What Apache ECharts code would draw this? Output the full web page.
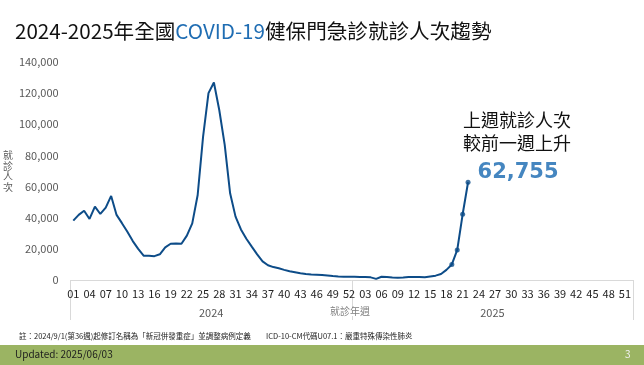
<!DOCTYPE html>
<html>
<head>
<meta charset="utf-8">
<script src="https://cdn.jsdelivr.net/npm/echarts@6/dist/echarts.min.js"></script>
<style>
html,body{margin:0;padding:0;background:#fff;}
#chart{width:644px;height:365px;}
</style>
</head>
<body>
<div id="chart"></div>
<script>
// ---- data ----
const weeks2024 = ['01','02','03','04','05','06','07','08','09','10','11','12','13','14','15','16','17','18','19','20','21','22','23','24','25','26','27','28','29','30','31','32','33','34','35','36','37','38','39','40','41','42','43','44','45','46','47','48','49','50','51','52'];
const weeks2025 = ['01','02','03','04','05','06','07','08','09','10','11','12','13','14','15','16','17','18','19','20','21','22','23','24','25','26','27','28','29','30','31','32','33','34','35','36','37','38','39','40','41','42','43','44','45','46','47','48','49','50','51','52'];
const years = ['2024', '2025'];
// weekly visits, 2024 W01 .. 2025 W22
const visits = [
  38100, 41800, 44500, 39200, 47100, 42400, 46500, 54000, 41800, 36500,
  31000, 25000, 20000, 15600, 15500, 15300, 16500, 21000, 23300, 23500,
  23300, 28500, 36400, 54600, 92100, 120000, 126800, 109000, 86800, 55700,
  40700, 32500, 26500, 21400, 16500, 12000, 9500, 8300, 7500, 6500,
  5600, 5000, 4400, 3900, 3600, 3400, 3200, 2900, 2500, 2200,
  2100, 2100, 2100, 2000, 2000, 1700, 700, 2100, 1900, 1600,
  1400, 1600, 1900, 2000, 1900, 1800, 2300, 2800, 3900, 6500,
  10000, 19300, 42200, 62755
];
const markedWeeks = 4; // last weeks shown with markers

// ---- build ----
const categories = weeks2024.concat(weeks2025);
const lastIdx = visits.length - 1;
const markerData = visits.map((v, i) => i > lastIdx - markedWeeks ? [i, v] : null).filter(d => d);
const fmt = v => v.toLocaleString('en-US');
const FONT = '"Noto Sans CJK TC", "Noto Sans", sans-serif';
const lineColor = '#0d4c88';

const chart = echarts.init(document.getElementById('chart'), null, {renderer: 'canvas'});
chart.setOption({
  animation: false,
  textStyle: {fontFamily: FONT},
  title: {
    left: 15, top: 21, padding: 0,
    text: '{a|2024-2025年全國}{b|COVID-19}{a|健保門急診就診人次趨勢}',
    textStyle: {
      fontWeight: 'normal',
      rich: {
        a: {fontSize: 20.6, color: '#111', fontFamily: FONT, fontWeight: 'normal'},
        b: {fontSize: 20.6, color: '#1f6db3', fontFamily: FONT, fontWeight: 'normal'}
      }
    }
  },
  grid: {left: 68, right: 11, top: 62, bottom: 85, containLabel: false},
  xAxis: [
    {
      type: 'category', data: categories, boundaryGap: true,
      axisLine: {show: true, lineStyle: {color: '#d9d9d9', width: 1}},
      axisTick: {show: false},
      axisLabel: {interval: 2, color: '#222', fontSize: 11, margin: 8, fontFamily: FONT},
      splitLine: {show: false}
    },
    {
      type: 'category', data: years, boundaryGap: true, position: 'bottom',
      axisLine: {show: false},
      axisTick: {show: true, length: 40, lineStyle: {color: '#d9d9d9'}},
      axisLabel: {color: '#595959', fontSize: 11, margin: 27, fontFamily: FONT},
      splitLine: {show: false}
    }
  ],
  yAxis: {
    type: 'value', min: 0, max: 140000, interval: 20000,
    axisLine: {show: false}, axisTick: {show: false},
    splitLine: {show: false},
    axisLabel: {color: '#595959', fontSize: 11, margin: 12, formatter: v => fmt(v), fontFamily: FONT},
    name: '就\n診\n人\n次', nameLocation: 'middle', nameRotate: 0, nameGap: 51,
    nameTextStyle: {color: '#595959', fontSize: 10, lineHeight: 10.5, fontFamily: FONT}
  },
  series: [
    {
      type: 'line', data: visits, symbol: 'none', smooth: false,
      lineStyle: {color: lineColor, width: 2}, z: 2
    },
    {
      type: 'scatter', data: markerData, symbol: 'circle', symbolSize: 5,
      itemStyle: {color: lineColor}, z: 3,
      label: {
        show: true, position: 'right', offset: [2, -10],
        formatter: p => p.data[0] === lastIdx ? fmt(p.data[1]) : '',
        color: '#1668b0', fontSize: 21, fontWeight: 'bold', fontFamily: '"DejaVu Sans", Verdana, sans-serif'
      }
    }
  ],
  graphic: [
    {
      type: 'text', left: 463, top: 109, z: 10,
      style: {text: '上週就診人次\n較前一週上升', fontSize: 18, lineHeight: 23, fill: '#111', fontFamily: FONT}
    },
    {
      type: 'text', left: 329, top: 306, z: 10,
      style: {text: '就診年週', fontSize: 10, fill: '#7f7f7f', fontFamily: FONT, backgroundColor: '#fff', padding: [0, 1]}
    },
    {
      type: 'text', left: 19, top: 332, z: 10,
      style: {text: '註：2024/9/1(第36週)起修訂名稱為「新冠併發重症」並調整病例定義', fontSize: 7.5, fill: '#222', fontFamily: FONT}
    },
    {
      type: 'text', left: 266, top: 332, z: 10,
      style: {text: 'ICD-10-CM代碼U07.1：嚴重特殊傳染性肺炎', fontSize: 7.5, fill: '#222', fontFamily: FONT}
    },
    {
      type: 'rect', left: 0, top: 345, z: 5,
      shape: {width: 644, height: 20}, style: {fill: '#9bb463'}
    },
    {
      type: 'text', left: 15, top: 349, z: 10,
      style: {text: 'Updated: 2025/06/03', fontSize: 10, fill: '#1e1e1e', fontFamily: FONT}
    },
    {
      type: 'text', left: 625, top: 349, z: 10,
      style: {text: '3', fontSize: 10, fill: '#f2f2f2', fontFamily: FONT}
    }
  ]
});
</script>
</body>
</html>
